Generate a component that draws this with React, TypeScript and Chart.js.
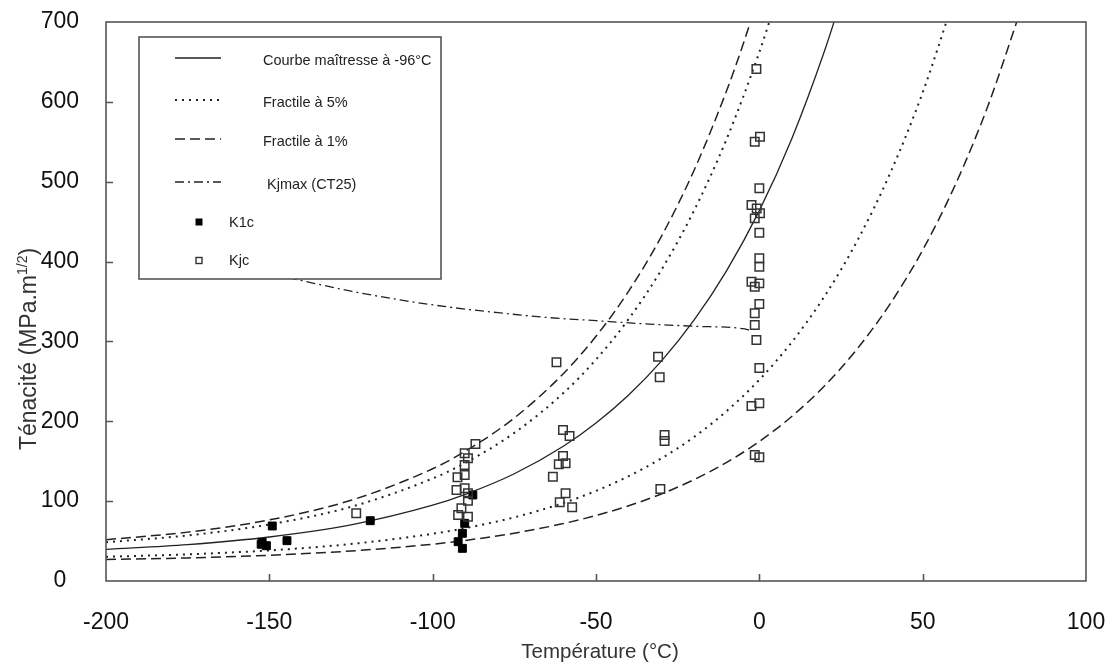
import React, { useEffect, useRef } from "react";
import { Chart, registerables } from "chart.js";

Chart.register(...registerables);

// ---------- axes ----------
const X_MIN = -200;
const X_MAX = 100;
const Y_MIN = 0;
const Y_MAX = 700;
const xTickValues = [-200, -150, -100, -50, 0, 50, 100];
const yTickValues = [0, 100, 200, 300, 400, 500, 600, 700];

const xTitle = "Température (°C)";
const yTitleMain = "Ténacité (MPa.m";
const yTitleSup = "1/2";
const yTitleEnd = ")";

// ---------- curves ----------
const masterT = [-200, -175, -150, -125, -100, -90, -75, -60, -50, -40, -30, -20, -10, 0, 10, 20, 25];
const masterK = [39.7, 45.6, 55.1, 70.3, 94.9, 108.5, 134.3, 168.7, 197.8, 232.9, 275.3, 326.6, 388.7, 463.8, 554.5, 664.3, 727.5];

const upper5T = [-200, -175, -150, -125, -100, -90, -75, -60, -50, -40, -30, -20, -10, 0, 5];
const upper5K = [48.5, 57.1, 70.8, 92.9, 128.4, 148.0, 185.5, 235.3, 277.3, 328.1, 389.5, 463.8, 553.6, 662.2, 724.8];

const lower5T = [-200, -175, -150, -125, -100, -90, -75, -60, -50, -40, -30, -20, -10, 0, 10, 20, 30, 40, 50, 60];
const lower5K = [30.3, 33.4, 38.3, 46.3, 59.1, 66.2, 79.7, 97.7, 112.9, 131.3, 153.5, 180.3, 212.8, 252.0, 299.5, 356.8, 426.2, 510.2, 611.6, 734.4];

const upper1T = [-200, -175, -150, -125, -100, -90, -75, -60, -50, -40, -30, -20, -10, -5, 0];
const upper1K = [51.7, 61.2, 76.5, 101.1, 140.6, 162.5, 204.2, 259.6, 306.4, 363.0, 431.4, 514.1, 614.1, 671.7, 735.1];

const lower1T = [-200, -175, -150, -125, -100, -90, -75, -60, -50, -40, -30, -20, -10, 0, 10, 20, 30, 40, 50, 60, 70, 80];
const lower1K = [26.9, 28.9, 32.2, 37.6, 46.1, 50.8, 59.9, 71.9, 82.0, 94.2, 109.0, 126.9, 148.5, 174.7, 206.3, 244.6, 290.9, 346.8, 414.4, 496.3, 595.2, 714.8];

const kjmaxT = [-150, -140, -125, -110, -95, -80, -65, -50, -35, -20, -5, -3];
const kjmaxK = [385, 376, 363, 352, 343, 336, 330, 326, 322, 319, 316, 314];

// ---------- measured points ----------
const k1cT = [-149.1, -152.2, -150.9, -152.5, -144.6, -119.1, -87.7, -90.2, -90.9, -92.2, -90.9];
const k1cK = [68.9, 48.4, 44.2, 46.0, 50.5, 75.5, 107.7, 72.2, 59.7, 49.2, 40.9];

const kjcT = [
  -123.4, -86.9, -90.2, -89.2, -90.2, -90.2, -92.4, -92.7, -90.2, -89.2, -89.2, -91.2, -92.2, -89.2,
  -62.1, -31.0, -30.5, -60.1, -58.1, -29.0, -29.0, -60.1, -59.3, -61.4, -63.2, -59.3, -61.1, -57.3, -30.3,
  0.0, 0.0, -2.4, -1.4, 0.0, -0.9, 0.2, -1.4, 0.0, -2.4, -0.8, 0.2, -1.4, 0.0, 0.0, 0.0, -2.4, 0.0, -1.4,
  0.0, -1.4, -1.4, -0.9,
];
const kjcK = [
  84.7, 171.6, 159.9, 153.6, 145.3, 132.7, 129.8, 114.0, 116.0, 109.8, 100.6, 91.0, 82.6, 80.5,
  273.8, 280.9, 255.0, 189.1, 181.6, 182.8, 175.3, 156.5, 147.4, 146.1, 130.6, 109.8, 98.5, 92.3, 115.2,
  266.7, 222.5, 219.1, 157.8, 154.9, 641.1, 556.4, 550.1, 491.7, 470.8, 466.6, 460.4, 454.1, 436.2, 404.1, 393.6, 374.8, 372.7, 368.5,
  346.9, 335.2, 320.6, 301.8,
];

const legendLabels = [
  "Courbe maîtresse à -96°C",
  "Fractile à 5%",
  "Fractile à 1%",
  "Kjmax (CT25)",
  "K1c",
  "Kjc",
];

const FONT = "'Liberation Sans', Arial, Helvetica, sans-serif";
const LINE_COLOR = "#222";
const DOT_DASH = [2, 5];
const LONG_DASH = [10, 5];
const DASH_DOT = [9, 4, 2, 4];

const pts = (xs: number[], ys: number[]) => xs.map((x, i) => ({ x, y: ys[i] }));

const decorPlugin = {
  id: "decor",
  afterDatasetsDraw(chart: any) {
    const { ctx, chartArea: a, scales } = chart;
    const xs = scales.x;
    const ys = scales.y;
    ctx.save();

    // frame
    ctx.strokeStyle = "#555";
    ctx.lineWidth = 1.6;
    ctx.setLineDash([]);
    ctx.strokeRect(a.left, a.top, a.right - a.left, a.bottom - a.top);

    // inward ticks
    ctx.beginPath();
    for (const v of xTickValues) {
      if (v === X_MIN || v === X_MAX) continue;
      const px = Math.round(xs.getPixelForValue(v)) + 0.5;
      ctx.moveTo(px, a.bottom);
      ctx.lineTo(px, a.bottom - 7);
    }
    for (const v of yTickValues) {
      if (v === Y_MIN || v === Y_MAX) continue;
      const py = Math.round(ys.getPixelForValue(v)) + 0.5;
      ctx.moveTo(a.left, py);
      ctx.lineTo(a.left + 7, py);
    }
    ctx.stroke();

    // legend box
    const bx = 139, by = 37, bw = 302, bh = 242;
    ctx.fillStyle = "#fff";
    ctx.fillRect(bx, by, bw, bh);
    ctx.strokeStyle = "#555";
    ctx.lineWidth = 1.6;
    ctx.strokeRect(bx, by, bw, bh);

    const rows = [61, 103, 142, 185, 223, 261];
    const sampleX0 = 175, sampleX1 = 221;
    const dashes = [[], DOT_DASH, LONG_DASH, DASH_DOT];
    const widths = [1.3, 2, 1.5, 1.3];
    for (let i = 0; i < 4; i++) {
      ctx.beginPath();
      ctx.strokeStyle = LINE_COLOR;
      ctx.lineWidth = widths[i];
      ctx.setLineDash(dashes[i]);
      ctx.moveTo(sampleX0, rows[i] - 3);
      ctx.lineTo(sampleX1, rows[i] - 3);
      ctx.stroke();
    }
    ctx.setLineDash([]);
    ctx.fillStyle = "#000";
    ctx.fillRect(195.5, rows[4] - 4.5, 7, 7);
    ctx.strokeStyle = "#333";
    ctx.lineWidth = 1.4;
    ctx.strokeRect(196, rows[5] - 3.5, 6, 6);

    ctx.fillStyle = "#222";
    ctx.font = `14.5px ${FONT}`;
    ctx.textAlign = "left";
    ctx.textBaseline = "middle";
    const textX = [263, 263, 263, 267, 229, 229];
    for (let i = 0; i < legendLabels.length; i++) {
      ctx.fillText(legendLabels[i], textX[i], rows[i]);
    }

    // axis titles
    ctx.fillStyle = "#333";
    ctx.font = `20.5px ${FONT}`;
    ctx.textAlign = "center";
    ctx.textBaseline = "middle";
    ctx.fillText(xTitle, 600, 652);

    ctx.save();
    ctx.translate(30, 349);
    ctx.rotate(-Math.PI / 2);
    const mainSize = 23;
    const supSize = 14;
    ctx.font = `${mainSize}px ${FONT}`;
    const w1 = ctx.measureText(yTitleMain).width;
    ctx.font = `${supSize}px ${FONT}`;
    const w2 = ctx.measureText(yTitleSup).width;
    ctx.font = `${mainSize}px ${FONT}`;
    const w3 = ctx.measureText(yTitleEnd).width;
    const total = w1 + w2 + w3;
    let cx = -total / 2;
    ctx.textAlign = "left";
    ctx.fillText(yTitleMain, cx, 0);
    cx += w1;
    ctx.font = `${supSize}px ${FONT}`;
    ctx.fillText(yTitleSup, cx, -7);
    cx += w2;
    ctx.font = `${mainSize}px ${FONT}`;
    ctx.fillText(yTitleEnd, cx, 0);
    ctx.restore();

    ctx.restore();
  },
};

export default function App() {
  const canvasRef = useRef<HTMLCanvasElement | null>(null);

  useEffect(() => {
    if (!canvasRef.current) return;
    const lineDs = (label: string, xs: number[], ys: number[], dash: number[], width: number) => ({
      label,
      data: pts(xs, ys),
      showLine: true,
      borderColor: LINE_COLOR,
      borderWidth: width,
      borderDash: dash,
      pointRadius: 0,
      pointHoverRadius: 0,
      fill: false,
      cubicInterpolationMode: "monotone" as const,
      order: 2,
    });

    const chart = new Chart(canvasRef.current, {
      type: "scatter",
      data: {
        datasets: [
          lineDs(legendLabels[0], masterT, masterK, [], 1.3),
          lineDs(legendLabels[1], upper5T, upper5K, DOT_DASH, 2),
          lineDs(legendLabels[1], lower5T, lower5K, DOT_DASH, 2),
          lineDs(legendLabels[2], upper1T, upper1K, LONG_DASH, 1.5),
          lineDs(legendLabels[2], lower1T, lower1K, LONG_DASH, 1.5),
          lineDs(legendLabels[3], kjmaxT, kjmaxK, DASH_DOT, 1.3),
          {
            label: legendLabels[4],
            data: pts(k1cT, k1cK),
            pointStyle: "rect",
            pointRadius: 5.6,
            backgroundColor: "#000",
            borderColor: "#000",
            borderWidth: 1,
            showLine: false,
            order: 1,
          },
          {
            label: legendLabels[5],
            data: pts(kjcT, kjcK),
            pointStyle: "rect",
            pointRadius: 6,
            backgroundColor: "rgba(0,0,0,0)",
            borderColor: "#333",
            borderWidth: 1.5,
            showLine: false,
            order: 0,
          },
        ],
      },
      options: {
        responsive: false,
        animation: false,
        events: [],
        layout: { padding: { top: 22, right: 23, left: 0, bottom: 0 } },
        plugins: {
          legend: { display: false },
          tooltip: { enabled: false },
          title: { display: false },
        },
        scales: {
          x: {
            type: "linear",
            min: X_MIN,
            max: X_MAX,
            afterBuildTicks: (s: any) => {
              s.ticks = xTickValues.map((v) => ({ value: v }));
            },
            afterFit: (s: any) => {
              s.height = 83;
              s.paddingLeft = 0;
              s.paddingRight = 0;
            },
            ticks: {
              autoSkip: false,
              maxRotation: 0,
              padding: 28,
              color: "#111",
              font: { family: FONT, size: 23 },
            },
            grid: { display: false, drawTicks: false },
            border: { display: false },
          },
          y: {
            type: "linear",
            min: Y_MIN,
            max: Y_MAX,
            afterBuildTicks: (s: any) => {
              s.ticks = yTickValues.map((v) => ({ value: v }));
            },
            afterFit: (s: any) => {
              s.width = 106;
              s.paddingTop = 0;
              s.paddingBottom = 0;
            },
            ticks: {
              autoSkip: false,
              crossAlign: "center",
              padding: 27,
              color: "#111",
              font: { family: FONT, size: 23 },
            },
            grid: { display: false, drawTicks: false },
            border: { display: false },
          },
        },
      },
      plugins: [decorPlugin],
    });
    return () => chart.destroy();
  }, []);

  return (
    <div style={{ position: "fixed", left: 0, top: 0, width: 1109, height: 664, background: "#fff" }}>
      <canvas ref={canvasRef} width={1109} height={664} style={{ display: "block" }} />
    </div>
  );
}
